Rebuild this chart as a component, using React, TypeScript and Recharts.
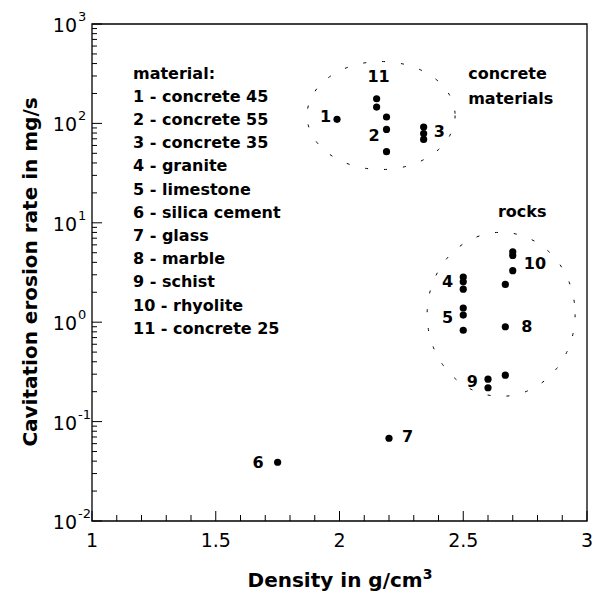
import { ScatterChart, Scatter, XAxis, YAxis, ReferenceArea, ReferenceDot } from "recharts"

// density (g/cm3) vs cavitation erosion rate (mg/s)
const concrete45 = [{ x: 1.99, y: 110 }]
const concrete55 = [
  { x: 2.19, y: 116 },
  { x: 2.19, y: 87 },
  { x: 2.19, y: 52 },
]
const concrete35 = [
  { x: 2.34, y: 92 },
  { x: 2.34, y: 79 },
  { x: 2.34, y: 69 },
]
const granite = [
  { x: 2.5, y: 2.85 },
  { x: 2.5, y: 2.55 },
  { x: 2.5, y: 2.15 },
]
const limestone = [
  { x: 2.5, y: 1.39 },
  { x: 2.5, y: 1.18 },
  { x: 2.5, y: 0.83 },
]
const silicaCement = [{ x: 1.75, y: 0.039 }]
const glass = [{ x: 2.2, y: 0.068 }]
const marble = [{ x: 2.67, y: 0.9 }]
const schist = [
  { x: 2.6, y: 0.267 },
  { x: 2.6, y: 0.219 },
  { x: 2.67, y: 0.293 },
]
const rhyolite = [
  { x: 2.7, y: 5.1 },
  { x: 2.7, y: 4.7 },
  { x: 2.7, y: 3.3 },
  { x: 2.67, y: 2.4 },
]
const concrete25 = [
  { x: 2.15, y: 177 },
  { x: 2.15, y: 146 },
]

const series = [concrete45, concrete55, concrete35, granite, limestone, silicaCement, glass, marble, schist, rhyolite, concrete25]

const materials = [
  "material:",
  "1 - concrete 45",
  "2 - concrete 55",
  "3 - concrete 35",
  "4 - granite",
  "5 - limestone",
  "6 - silica cement",
  "7 - glass",
  "8 - marble",
  "9 - schist",
  "10 - rhyolite",
  "11 - concrete 25",
]

const xTicks = [1, 1.1, 1.2, 1.3, 1.4, 1.5, 1.6, 1.7, 1.8, 1.9, 2, 2.1, 2.2, 2.3, 2.4, 2.5, 2.6, 2.7, 2.8, 2.9, 3]
const yTicks = [
  0.01, 0.02, 0.03, 0.04, 0.05, 0.06, 0.07, 0.08, 0.09,
  0.1, 0.2, 0.3, 0.4, 0.5, 0.6, 0.7, 0.8, 0.9,
  1, 2, 3, 4, 5, 6, 7, 8, 9,
  10, 20, 30, 40, 50, 60, 70, 80, 90,
  100, 200, 300, 400, 500, 600, 700, 800, 900,
  1000,
]

// point labels, anchored on a data point
const pointLabels = [
  { text: "1", x: 1.99, y: 110, dx: -6, dy: -3, anchor: "end" },
  { text: "11", x: 2.15, y: 177, dx: 2, dy: -22, anchor: "middle" },
  { text: "2", x: 2.19, y: 87, dx: -7, dy: 6, anchor: "end" },
  { text: "3", x: 2.34, y: 79, dx: 10, dy: -2, anchor: "start" },
  { text: "4", x: 2.5, y: 2.55, dx: -10, dy: 0, anchor: "end" },
  { text: "5", x: 2.5, y: 1.18, dx: -10, dy: 2, anchor: "end" },
  { text: "6", x: 1.75, y: 0.039, dx: -14, dy: 0, anchor: "end" },
  { text: "7", x: 2.2, y: 0.068, dx: 13, dy: -2, anchor: "start" },
  { text: "8", x: 2.67, y: 0.9, dx: 16, dy: 0, anchor: "start" },
  { text: "9", x: 2.6, y: 0.267, dx: -10, dy: 2, anchor: "end" },
  { text: "10", x: 2.7, y: 3.3, dx: 11, dy: -7, anchor: "start" },
  { text: "concrete", x: 2.52, y: 316, dx: 0, dy: 0, anchor: "start" },
  { text: "materials", x: 2.52, y: 180, dx: 0, dy: 0, anchor: "start" },
  { text: "rocks", x: 2.64, y: 13.1, dx: 0, dy: 0, anchor: "start" },
]

const groups = [
  { x: 2.168, y: 120, rx: 74, ry: 54 },
  { x: 2.653, y: 1.2, rx: 74, ry: 82 },
]

const FONT = "DejaVu Sans"

const XTick = (props: any) => {
  const { x, y, payload } = props
  const v = payload.value
  const major = Math.abs(v * 2 - Math.round(v * 2)) < 1e-6
  return (
    <g>
      <line x1={x} x2={x} y1={y} y2={y - (major ? 10 : 6)} stroke="#000" />
      {major && (
        <text x={x} y={y + 26} textAnchor="middle" fontSize={19} fontFamily={FONT} fill="#000">
          {String(v)}
        </text>
      )}
    </g>
  )
}

const YTick = (props: any) => {
  const { x, y, payload } = props
  const lg = Math.log10(payload.value)
  const major = Math.abs(lg - Math.round(lg)) < 1e-6
  return (
    <g>
      <line x1={x} x2={x + (major ? 10 : 5)} y1={y} y2={y} stroke="#000" />
      {major && (
        <g fontFamily={FONT} fill="#000">
          <text x={x - 15} y={y + 8} textAnchor="end" fontSize={19}>10</text>
          <text x={x - 14} y={y - 3} textAnchor="start" fontSize={13}>{Math.round(lg)}</text>
        </g>
      )}
    </g>
  )
}

export default function App() {
  return (
    <div style={{ position: "absolute", left: 0, top: 0, width: 595, height: 599, background: "#fff" }}>
      <ScatterChart width={595} height={599} margin={{ top: 24, right: 8, bottom: 0, left: 0 }}>
        <XAxis
          type="number"
          dataKey="x"
          domain={[1, 3]}
          ticks={xTicks}
          interval={0}
          height={78}
          tickSize={0}
          tickMargin={0}
          axisLine={false}
          tickLine={false}
          tick={<XTick />}
        />
        <YAxis
          type="number"
          dataKey="y"
          scale="log"
          domain={[0.01, 1000]}
          allowDataOverflow
          ticks={yTicks}
          interval={0}
          width={92}
          tickSize={0}
          tickMargin={0}
          axisLine={false}
          tickLine={false}
          tick={<YTick />}
        />
        <ReferenceArea x1={1} x2={3} y1={0.01} y2={1000} fill="none" stroke="#000" strokeWidth={1.3} ifOverflow="visible" />
        {groups.map((g, i) => (
          <ReferenceDot
            key={"g" + i}
            x={g.x}
            y={g.y}
            ifOverflow="visible"
            shape={(p: any) => (
              <ellipse cx={p.cx} cy={p.cy} rx={g.rx} ry={g.ry} fill="none" stroke="#000" strokeWidth={1} strokeDasharray="3 16" />
            )}
          />
        ))}
        {series.map((s, i) => (
          <Scatter
            key={"s" + i}
            data={s}
            isAnimationActive={false}
            shape={(p: any) => <circle cx={p.cx} cy={p.cy} r={3.6} fill="#000" />}
          />
        ))}
        {pointLabels.map((l, i) => (
          <ReferenceDot
            key={"l" + i}
            x={l.x}
            y={l.y}
            ifOverflow="visible"
            shape={(p: any) => (
              <text
                x={p.cx + l.dx}
                y={p.cy + l.dy}
                textAnchor={l.anchor}
                dominantBaseline="central"
                fontFamily={FONT}
                fontWeight="bold"
                fontSize={16}
                fill="#000"
              >
                {l.text}
              </text>
            )}
          />
        ))}
      </ScatterChart>
      <svg width={595} height={599} style={{ position: "absolute", left: 0, top: 0, pointerEvents: "none" }}>
        <g fontFamily={FONT} fontWeight="bold" fill="#000">
          {materials.map((m, i) => (
            <text key={m} x={133} y={73 + i * 23.2} dominantBaseline="central" fontSize={16}>
              {m}
            </text>
          ))}
          <text x={340} y={587} textAnchor="middle" fontSize={20}>
            Density in g/cm<tspan dy={-8} fontSize={14}>3</tspan>
          </text>
          <text x={37} y={272} textAnchor="middle" fontSize={20} transform="rotate(-90 37 272)">
            Cavitation erosion rate in mg/s
          </text>
        </g>
      </svg>
    </div>
  )
}
